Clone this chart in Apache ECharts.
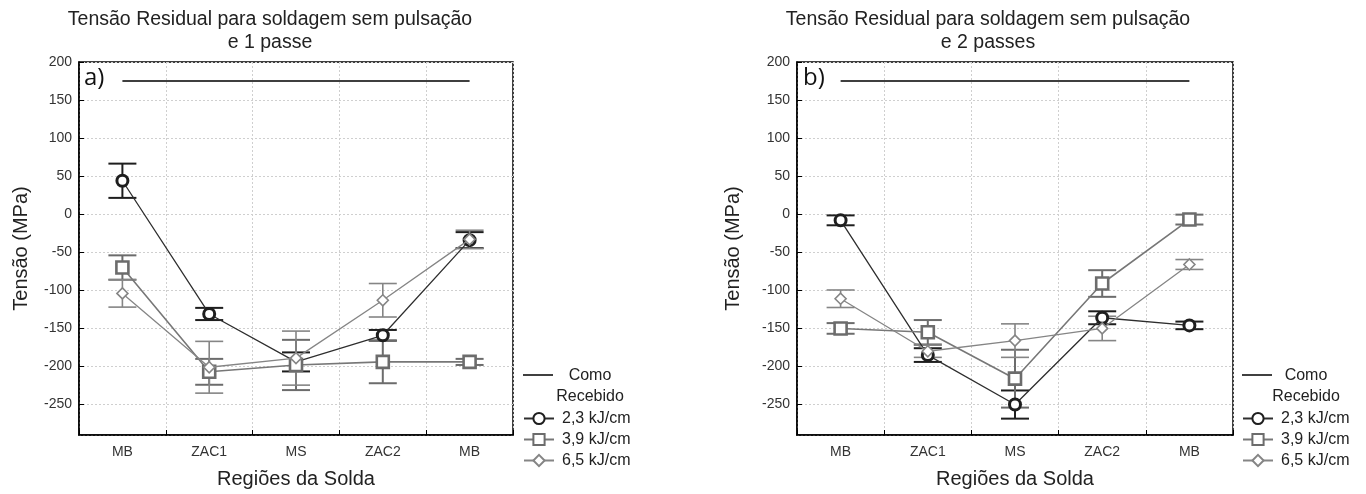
<!DOCTYPE html>
<html>
<head>
<meta charset="utf-8">
<script src="https://cdn.jsdelivr.net/npm/echarts@6/dist/echarts.min.js"></script>
<style>
html,body{margin:0;padding:0;background:#fff;}
#chart{width:1366px;height:494px;}
</style>
</head>
<body>
<div id="chart"></div>
<script>
// ---- data ----
const categories = ['MB', 'ZAC1', 'MS', 'ZAC2', 'MB'];
const seriesNames = ['2,3 kJ/cm', '3,9 kJ/cm', '6,5 kJ/cm'];
const refName = 'Como Recebido';
const comoRecebido = [175, 175, 175, 175, 175];

// Chart a) 1 passe : means and half-widths of error bars
const a_23 = [44, -131, -194, -159, -34];
const a_23_err = [22.5, 8, 12.5, 7, 10.5];
const a_39 = [-70, -207, -198, -194, -194];
const a_39_err = [16, 17, 33, 28, 4];
const a_65 = [-104, -201, -189, -113, -33];
const a_65_err = [18, 34, 35.5, 22, 12];

// Chart b) 2 passes
const b_23 = [-8, -185, -250, -136, -146];
const b_23_err = [6.5, 9, 18.5, 8.5, 5];
const b_39 = [-150, -155, -216, -91, -7];
const b_39_err = [7, 16, 38, 17.5, 6.5];
const b_65 = [-111, -180, -166, -150, -66];
const b_65_err = [11.5, 8, 22, 16, 6.5];

const yTicksMin = -290, yTicksMax = 200;

// ---- styles ----
const FONT = 'Liberation Sans, Arial, sans-serif';
const styles = [
  {color: '#1e1e1e', line: '#2e2e2e', lineW: 1.3, symbol: 'circle', size: 11, border: 3, errW: 2},
  {color: '#6c6c6c', line: '#777777', lineW: 1.6, symbol: 'rect', size: 12, border: 2.6, errW: 2},
  {color: '#858585', line: '#858585', lineW: 1.3, symbol: 'diamond', size: 11, border: 1.6, errW: 1.6}
];

function errData(mean, err) {
  return mean.map((m, i) => [i, m - err[i], m + err[i]]);
}
function errRender(color, lw) {
  return function (params, api) {
    const x = api.value(0);
    const lo = api.coord([x, api.value(1)]);
    const hi = api.coord([x, api.value(2)]);
    const hw = 14;
    const st = {stroke: color, lineWidth: lw};
    return {type: 'group', children: [
      {type: 'line', shape: {x1: lo[0], y1: lo[1], x2: hi[0], y2: hi[1]}, style: st},
      {type: 'line', shape: {x1: lo[0] - hw, y1: lo[1], x2: lo[0] + hw, y2: lo[1]}, style: st},
      {type: 'line', shape: {x1: hi[0] - hw, y1: hi[1], x2: hi[0] + hw, y2: hi[1]}, style: st}
    ]};
  };
}

const grids = [
  {left: 79, top: 62, width: 434, height: 375},
  {left: 797, top: 62, width: 436, height: 375}
];
const panels = [
  {means: [a_23, a_39, a_65], errs: [a_23_err, a_39_err, a_65_err], nameGap: 48,
   title: 'Tensão Residual para soldagem sem pulsação\ne 1 passe', titleX: 270, tag: 'a)', tagX: 84,
   legendX: 523, refX: 523, refTextX: 590},
  {means: [b_23, b_39, b_65], errs: [b_23_err, b_39_err, b_65_err], nameGap: 54,
   title: 'Tensão Residual para soldagem sem pulsação\ne 2 passes', titleX: 988, tag: 'b)', tagX: 803,
   legendX: 1242, refX: 1242, refTextX: 1306}
];

const xAxis = [], yAxis = [], series = [], legend = [], graphic = [];
panels.forEach((p, gi) => {
  xAxis.push({
    type: 'category', gridIndex: gi, data: categories, boundaryGap: true,
    name: 'Regiões da Solda', nameLocation: 'middle', nameGap: 34,
    nameTextStyle: {fontSize: 20, color: '#222', fontFamily: FONT},
    axisLine: {show: true, onZero: false, lineStyle: {color: '#000', width: 1.5}},
    axisTick: {show: true, inside: true, length: 5, lineStyle: {color: '#000'}},
    axisLabel: {fontSize: 14, color: '#333', fontFamily: FONT, margin: 10},
    splitLine: {show: true, lineStyle: {color: '#cfcfcf', type: [2, 2], width: 1}}
  });
  yAxis.push({
    type: 'value', gridIndex: gi, min: yTicksMin, max: yTicksMax, splitNumber: 10,
    name: 'Tensão (MPa)', nameLocation: 'middle', nameGap: p.nameGap,
    nameTextStyle: {fontSize: 20, color: '#222', fontFamily: FONT},
    axisLine: {show: true, onZero: false, lineStyle: {color: '#000', width: 1.5}},
    axisTick: {show: true, inside: true, length: 5, lineStyle: {color: '#000'}},
    axisLabel: {fontSize: 14, color: '#333', fontFamily: FONT, margin: 7, showMinLabel: false},
    splitLine: {show: true, lineStyle: {color: '#cfcfcf', type: [2, 2], width: 1}}
  });
  // reference line
  series.push({
    type: 'line', name: refName, xAxisIndex: gi, yAxisIndex: gi, data: comoRecebido,
    showSymbol: false, symbol: 'none', lineStyle: {color: '#000', width: 1.5}, z: 2, silent: true
  });
  p.means.forEach((m, si) => {
    const s = styles[si];
    series.push({
      type: 'custom', name: 'err' + si, xAxisIndex: gi, yAxisIndex: gi,
      data: errData(m, p.errs[si]), encode: {x: 0, y: [1, 2]},
      renderItem: errRender(s.color, s.errW), z: 3, silent: true
    });
  });
  p.means.forEach((m, si) => {
    const s = styles[si];
    series.push({
      type: 'line', name: seriesNames[si], xAxisIndex: gi, yAxisIndex: gi, data: m,
      symbol: s.symbol, symbolSize: s.size, showSymbol: true,
      lineStyle: {color: s.line, width: s.lineW},
      itemStyle: {color: '#fff', borderColor: s.color, borderWidth: s.border},
      z: 4 + si, animation: false
    });
  });
  legend.push({
    orient: 'vertical', left: p.legendX, top: 408, itemWidth: 30, itemHeight: 14, itemGap: 0,
    padding: 0, data: seriesNames, selectedMode: false,
    textStyle: {fontSize: 16, color: '#222', fontFamily: FONT, lineHeight: 21, padding: [0, 0, 0, 3]}
  });
  graphic.push({
    type: 'text', x: p.titleX, y: 8,
    style: {text: p.title, font: '19.5px ' + FONT, fill: '#222', align: 'center', lineHeight: 23}
  });
  graphic.push({
    type: 'text', x: p.tagX, y: 66,
    style: {text: p.tag, font: '24px "Open Sans", ' + FONT, fill: '#111'}
  });
  graphic.push({
    type: 'line', shape: {x1: p.refX, y1: 375, x2: p.refX + 30, y2: 375},
    style: {stroke: '#000', lineWidth: 1.5}
  });
  graphic.push({
    type: 'text', x: p.refTextX, y: 365,
    style: {text: 'Como\nRecebido', font: '16px ' + FONT, fill: '#222', align: 'center', lineHeight: 21}
  });
});

const chart = echarts.init(document.getElementById('chart'), null, {renderer: 'canvas'});
chart.setOption({
  backgroundColor: '#fff',
  animation: false,
  grid: grids.map(g => Object.assign({show: true, borderColor: '#000', borderWidth: 1.5, backgroundColor: 'transparent'}, g)),
  xAxis, yAxis, series, legend, graphic
});
</script>
</body>
</html>
